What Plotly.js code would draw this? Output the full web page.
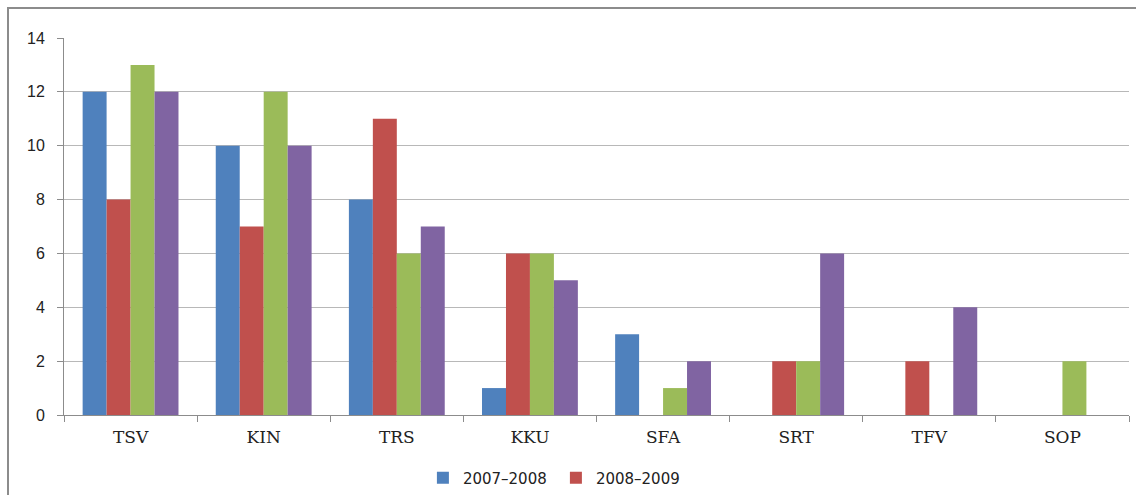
<!DOCTYPE html>
<html>
<head>
<meta charset="utf-8">
<script src="https://cdn.plot.ly/plotly-3.0.1.min.js"></script>
<style>
html,body{margin:0;padding:0;background:#fff;overflow:hidden;}
#frame{position:absolute;left:7px;top:7px;width:1300px;height:700px;border:2px solid #8c8c8c;box-sizing:border-box;}
#chart{position:absolute;left:0;top:0;width:1136px;height:495px;}
</style>
</head>
<body>
<div id="frame"></div>
<div id="chart"></div>
<script>
const categories = ['TSV','KIN','TRS','KKU','SFA','SRT','TFV','SOP'];
const seriesNames = ['2007–2008','2008–2009','2009–2010','2010–2011'];
const s1 = [12,10,8,1,3,0,0,0];
const s2 = [8,7,11,6,0,2,2,0];
const s3 = [13,12,6,6,1,2,0,2];
const s4 = [12,10,7,5,2,6,4,0];
const yTicks = [0,2,4,6,8,10,12,14];
const colors = ['#4F81BD','#C0504D','#9BBB59','#8064A2'];
const allSeries = [s1,s2,s3,s4];

const traces = allSeries.map((vals,i)=>({
  type:'bar', x:categories, y:vals, name:seriesNames[i],
  marker:{color:colors[i]}, showlegend: i<2
}));

const layout = {
  width:1136, height:495,
  margin:{l:64,r:7,t:38,b:80,autoexpand:false},
  paper_bgcolor:'rgba(0,0,0,0)', plot_bgcolor:'rgba(0,0,0,0)',
  barmode:'group', bargap:0.28, bargroupgap:0,
  xaxis:{type:'category', showgrid:false, showline:true, linecolor:'#8c8c8c', linewidth:1,
    ticks:'outside', tickson:'boundaries', ticklen:6, tickcolor:'#8c8c8c', ticklabelstandoff:7,
    tickfont:{family:'DejaVu Serif', size:17, color:'#222'}, zeroline:false, automargin:false},
  yaxis:{range:[0,14], tickvals:yTicks, showgrid:true, gridcolor:'#b8b8b8', gridwidth:1,
    showline:true, linecolor:'#8c8c8c', ticks:'outside', ticklen:6, tickcolor:'#8c8c8c', ticklabelstandoff:9,
    tickfont:{family:'Liberation Sans', size:16, color:'#222'}, zeroline:false, automargin:false},
  legend:{orientation:'h', x:0.337, xanchor:'left', y:-0.167, yanchor:'middle',
    font:{family:'DejaVu Sans', size:15, color:'#222'},
    entrywidth:88, itemwidth:30, bgcolor:'rgba(0,0,0,0)'},
  showlegend:true
};
Plotly.newPlot('chart', traces, layout, {displayModeBar:false, staticPlot:true});
</script>
</body>
</html>
